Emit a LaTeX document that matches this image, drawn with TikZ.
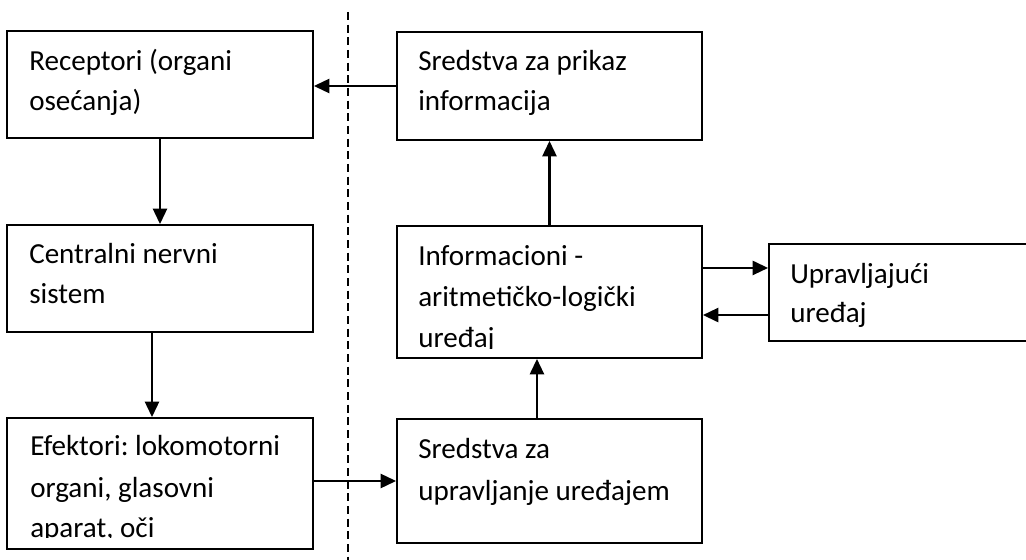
\documentclass[tikz,border=0pt]{standalone}
\usepackage{fontspec}
\setmainfont{Carlito}
\usetikzlibrary{arrows.meta,fit}
\frenchspacing
\begin{document}
\begin{tikzpicture}[x=0.75pt,y=-0.75pt,
  box/.style={draw, line width=1.4pt, inner sep=0pt},
  txt/.style={anchor=base west, inner sep=0pt, font=\fontsize{21.8pt}{26pt}\selectfont},
  arr/.style={line width=1.7pt, -{Triangle[length=11.5pt,width=10.5pt]}},
  divider/.style={line width=1.1pt, dash pattern=on 6pt off 3.5pt}]
\useasboundingbox (0,0) rectangle (1026,560);
% boxes
\node[box, fit={(7,31) (313,138)}] (rec) {};
\node[box, fit={(397,32) (702,140)}] (spi) {};
\node[box, fit={(7,225) (313,332)}] (cns) {};
\node[box, fit={(397,226) (702,358)}] (inf) {};
\node[box, fit={(769,244) (1034,341)}] (upr) {};
\node[box, fit={(7,418) (313,549)}] (efe) {};
\node[box, fit={(397,419) (702,543)}] (sup) {};
% divider
\coordinate (d1) at (348,12);
\coordinate (d2) at (348,562);
\draw[divider] (d1) -- (d2);
% texts
\node[txt] (t1a) at (29,71) {Receptori (organi};
\node[txt] (t1b) at (29,111) {osećanja)};
\node[txt] (t2a) at (418,71) {Sredstva za prikaz};
\node[txt] (t2b) at (418,111) {informacija};
\node[txt] (t3a) at (29,263) {Centralni nervni};
\node[txt] (t3b) at (29,303) {sistem};
\node[txt] (t4a) at (418,265) {Informacioni -};
\node[txt] (t4b) at (418,306) {aritmetičko-logički};
\begin{scope}
\clip (400,320) rectangle (700,348);
\node[txt] (t4c) at (418,347) {uređaj};
\end{scope}
\node[txt] (t5a) at (790,283) {Upravljajući};
\node[txt] (t5b) at (790,322) {uređaj};
\node[txt] (t6a) at (30,455) {Efektori: lokomotorni};
\node[txt] (t6b) at (30,497) {organi, glasovni};
\begin{scope}
\clip (10,505) rectangle (310,537);
\node[txt] (t6c) at (30,537) {aparat, oči};
\end{scope}
\node[txt] (t7a) at (418,458) {Sredstva za};
\node[txt] (t7b) at (418,500) {upravljanje uređajem};
% connectors
\draw[arr] (spi.west) -- (spi.west -| rec.east);
\draw[arr] (rec.south) -- (cns.north);
\draw[arr] ([xshift=-6pt]cns.south) -- ([xshift=-6pt]efe.north);
\draw[arr] (efe.east |- sup.west) -- (sup.west);
\draw[arr] ([xshift=-9.4pt]sup.north) -- ([xshift=-9.4pt]inf.south);
\draw[arr] (inf.north) -- (spi.south);
\coordinate (u1) at ([yshift=18.4pt]upr.west);
\coordinate (u2) at ([yshift=-16.9pt]upr.west);
\draw[arr] (u1 -| inf.east) -- (u1);
\draw[arr] (u2) -- (u2 -| inf.east);
\end{tikzpicture}
\end{document}
